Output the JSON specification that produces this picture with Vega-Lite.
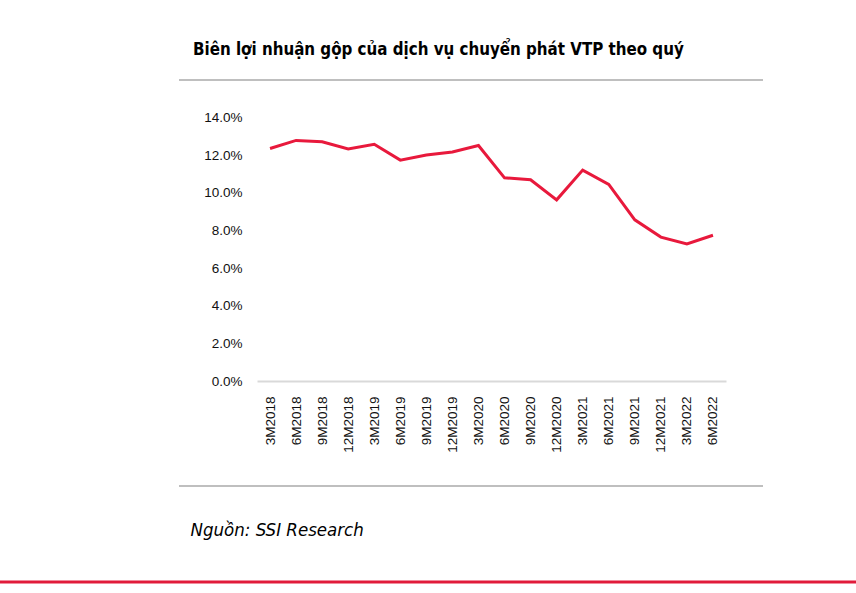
{
  "$schema": "https://vega.github.io/schema/vega-lite/v6.json",
  "autosize": {"type": "none"},
  "width": 584,
  "height": 301,
  "padding": {"left": 179, "top": 80, "right": 93, "bottom": 212},
  "background": "#ffffff",
  "config": {"view": {"stroke": null}},
  "title": {
    "text": "Biên lợi nhuận gộp của dịch vụ chuyển phát VTP theo quý",
    "anchor": "start",
    "frame": "group",
    "dx": 14,
    "offset": 7,
    "baseline": "alphabetic",
    "font": "DejaVu Sans Condensed",
    "fontWeight": "bold",
    "fontSize": 16.8,
    "color": "#000000"
  },
  "data": {
    "values": [
      {"quarter": "3M2018", "margin": 12.36},
      {"quarter": "6M2018", "margin": 12.79},
      {"quarter": "9M2018", "margin": 12.72},
      {"quarter": "12M2018", "margin": 12.33},
      {"quarter": "3M2019", "margin": 12.58},
      {"quarter": "6M2019", "margin": 11.74},
      {"quarter": "9M2019", "margin": 12.01},
      {"quarter": "12M2019", "margin": 12.17},
      {"quarter": "3M2020", "margin": 12.52},
      {"quarter": "6M2020", "margin": 10.8},
      {"quarter": "9M2020", "margin": 10.7},
      {"quarter": "12M2020", "margin": 9.63},
      {"quarter": "3M2021", "margin": 11.21},
      {"quarter": "6M2021", "margin": 10.45},
      {"quarter": "9M2021", "margin": 8.57},
      {"quarter": "12M2021", "margin": 7.65},
      {"quarter": "3M2022", "margin": 7.29},
      {"quarter": "6M2022", "margin": 7.75}
    ]
  },
  "resolve": {"scale": {"x": "independent"}},
  "layer": [
    {
      "data": {"values": [{"item": "top rule"}]},
      "mark": {"type": "rule", "color": "#bfbfbf", "strokeWidth": 2},
      "encoding": {"y": {"datum": 16, "scale": {"domain": [0, 16]}}}
    },
    {
      "data": {"values": [{"item": "bottom rule"}]},
      "mark": {"type": "rule", "color": "#bfbfbf", "strokeWidth": 2},
      "encoding": {"y": {"datum": -5.58, "scale": {"domain": [0, 16]}}}
    },
    {
      "data": {"values": [{"item": "page rule"}]},
      "mark": {"type": "rule", "color": "#e11b3a", "strokeWidth": 3},
      "encoding": {
        "y": {"datum": -10.68, "scale": {"domain": [0, 16]}},
        "x": {"datum": 0, "type": "quantitative", "scale": {"domain": [179, 763]}, "axis": null},
        "x2": {"datum": 856}
      }
    },
    {
      "mark": {"type": "line", "color": "#e8193c", "strokeWidth": 3},
      "encoding": {
        "x": {
          "field": "quarter",
          "type": "ordinal",
          "sort": null,
          "scale": {"type": "point", "padding": 0.5, "range": [78, 547]},
          "axis": {
            "labelAngle": -90,
            "labelAlign": "right",
            "labelBaseline": "middle",
            "labelFont": "Liberation Sans",
            "labelFontSize": 13.5,
            "labelColor": "#111111",
            "labelPadding": 15,
            "ticks": false,
            "tickSize": 0,
            "grid": false,
            "domainColor": "#d9d9d9",
            "domainWidth": 2,
            "title": "Nguồn: SSI Research",
            "titleFont": "DejaVu Sans Condensed",
            "titleFontStyle": "italic",
            "titleFontWeight": "normal",
            "titleFontSize": 18.5,
            "titleColor": "#000000",
            "titleAnchor": "start",
            "titleAlign": "left",
            "titleBaseline": "alphabetic",
            "titleX": 11,
            "titleY": 154
          }
        },
        "y": {
          "field": "margin",
          "type": "quantitative",
          "scale": {"domain": [0, 16]},
          "axis": {
            "values": [0, 2, 4, 6, 8, 10, 12, 14],
            "labelExpr": "format(datum.value, '.1f') + '%'",
            "labelFont": "Liberation Sans",
            "labelFontSize": 13.5,
            "labelColor": "#111111",
            "labelPadding": 3,
            "offset": -66,
            "ticks": false,
            "tickSize": 0,
            "domain": false,
            "grid": false,
            "title": null
          }
        }
      }
    }
  ]
}
